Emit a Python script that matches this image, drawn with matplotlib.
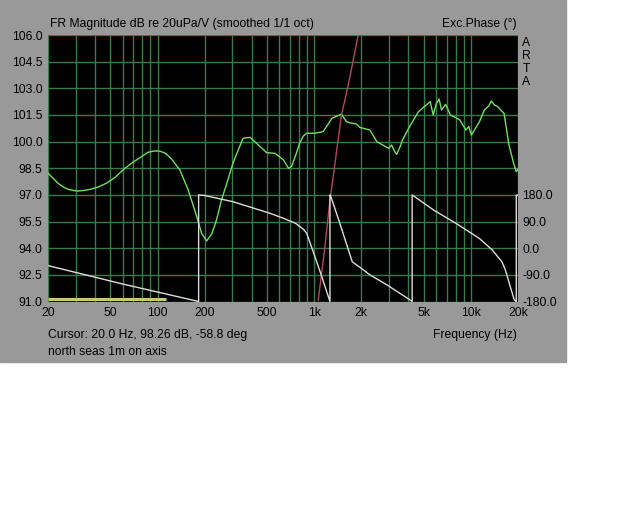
import matplotlib
matplotlib.use('Agg')
import matplotlib.pyplot as plt
from matplotlib.patches import Rectangle
from matplotlib.ticker import FixedLocator, NullLocator, NullFormatter

# magnitude (smoothed 1/1 oct), dB re 20uPa/V
mag_freq = [20, 21.5, 23.2, 25, 26.7, 29, 31, 34, 37.6, 42, 47, 53, 62, 70, 79, 87,
            95, 103, 112, 122, 139, 157, 178, 191, 206, 222, 238, 256, 277, 303, 330,
            352, 390, 440, 497, 563, 636, 686, 716, 760, 808, 850, 895,
            1009, 1141, 1297, 1448, 1492, 1607, 1684, 1862, 1954, 2268, 2516, 2992,
            3120, 3260, 3358, 3550, 3660, 4100, 4636, 5100, 5502, 5750, 6000, 6269,
            6500, 6900, 7400, 8000, 8500, 9300, 9700, 10080, 11350, 12200, 13000,
            13500, 14200, 14850, 15600, 16300, 17500, 18900, 19500, 20000]
mag_db = [98.22, 97.95, 97.65, 97.45, 97.32, 97.25, 97.22, 97.25, 97.32, 97.45, 97.65,
          97.95, 98.5, 98.85, 99.15, 99.4, 99.47, 99.47, 99.35, 99.06, 98.4, 97.28,
          95.78, 94.84, 94.41, 94.8, 95.59, 96.71, 97.65, 98.78, 99.6, 100.19, 100.24,
          99.81, 99.38, 99.34, 98.97, 98.5, 98.59, 99.2, 99.91, 100.3, 100.47, 100.47,
          100.56, 101.31, 101.5, 101.55, 101.12, 101.06, 100.99, 100.8, 100.65, 99.99,
          99.62, 99.81, 99.45, 99.28, 99.75, 100.09, 100.9, 101.69, 102.0, 102.25,
          101.5, 102.1, 102.4, 101.78, 102.1, 101.5, 101.35, 101.22, 100.65, 100.85,
          100.37, 101.12, 101.78, 102.0, 102.29, 102.05, 101.97, 101.75, 101.59, 99.81,
          98.68, 98.3, 98.45]

# excess phase (deg), wrapped
ph_freq = [20, 60, 183, 183, 200, 303, 522, 636, 761, 853, 895, 986, 1091, 1261, 1261,
           1275, 1448, 1750, 1954, 2268, 2916, 4100, 4220, 4220, 5780, 8040, 11330,
           13700, 15800, 16600, 18900, 19500, 19500, 20000]
ph_deg = [-58.8, -121, -180, 180, 178, 157, 118, 101, 84, 64, 51, -12, -79, -180, 180,
          176, 89, -46, -64, -90, -124, -175, -180, 180, 129, 84, 33, -6, -46, -73,
          -174, -180, 180, 178]

# red trace
red_freq = [1062, 1171, 1261, 1323, 1492, 1572, 1691, 1910]
red_db = [91.08, 94.09, 96.71, 98.03, 101.5, 102.34, 103.65, 106.0]

# yellow bar at bottom
yel_freq = [20, 113]
yel_db = [91.14, 91.14]

db_ticks = [91.0, 92.5, 94.0, 95.5, 97.0, 98.5, 100.0, 101.5, 103.0, 104.5, 106.0]
ph_ticks = [-180, -90, 0, 90, 180]
f_ticks = [20, 50, 100, 200, 500, 1000, 2000, 5000, 10000, 20000]
f_labels = ['20', '50', '100', '200', '500', '1k', '2k', '5k', '10k', '20k']
grid_f = [m * d for d in (10, 100, 1000, 10000) for m in range(1, 10)
          if 20 <= m * d <= 20000]

plt.rcParams['font.family'] = ['Liberation Sans', 'DejaVu Sans']
fs = 8.7
gridc = '#3a7a4a'

fig = plt.figure(figsize=(6.4, 5.12), dpi=100)
fig.patch.set_facecolor('white')
fig.patches.append(Rectangle((0, 1 - 362 / 512), 566 / 640, 362 / 512,
                             transform=fig.transFigure, color='#999999', zorder=-5))

ax = fig.add_axes([48 / 640, 1 - 301.5 / 512, 470 / 640, 266.5 / 512])
ax.set_facecolor('black')
ax.set_xscale('log')
ax.set_xlim(20, 20000)
ax.set_ylim(91, 106)
for s in ax.spines.values():
    s.set_visible(False)

for f in grid_f:
    ax.axvline(f, color=gridc, lw=1.0, zorder=1)
for d in db_ticks:
    ax.axhline(d, color=gridc, lw=1.0, zorder=1)

ax.xaxis.set_major_locator(FixedLocator(f_ticks))
ax.set_xticklabels(f_labels)
ax.xaxis.set_minor_locator(NullLocator())
ax.xaxis.set_minor_formatter(NullFormatter())
ax.set_yticks(db_ticks)
ax.set_yticklabels(['%.1f' % d for d in db_ticks])
ax.tick_params(length=0, labelsize=fs, pad=4, colors='black')

ax.plot(yel_freq, yel_db, color='#c8c878', lw=2.2, zorder=3, solid_capstyle='butt')
ax.plot(mag_freq, mag_db, color='#72e05e', lw=1.0, zorder=4)
ax.plot(red_freq, red_db, color='#b04a58', lw=1.0, zorder=5)

ax2 = ax.twinx()
ax2.set_ylim(-180, 720)
ax2.set_yticks(ph_ticks)
ax2.set_yticklabels(['%.1f' % p for p in ph_ticks])
ax2.tick_params(length=0, labelsize=fs, pad=3, colors='black')
for s in ax2.spines.values():
    s.set_visible(False)
ax2.plot(ph_freq, ph_deg, color='#dcdcdc', lw=1.0, zorder=3)

fig.text(50 / 640, 1 - 24 / 512, 'FR Magnitude dB re 20uPa/V (smoothed 1/1 oct)',
         fontsize=fs, va='center', ha='left')
fig.text(517 / 640, 1 - 24 / 512, 'Exc.Phase (°)', fontsize=fs, va='center', ha='right')
for i, ch in enumerate('ARTA'):
    fig.text(526 / 640, 1 - (43 + i * 13) / 512, ch, fontsize=fs, va='center', ha='center')
fig.text(48 / 640, 1 - 335 / 512, 'Cursor: 20.0 Hz, 98.26 dB, -58.8 deg',
         fontsize=fs, va='center', ha='left')
fig.text(48 / 640, 1 - 352 / 512, 'north seas 1m on axis', fontsize=fs, va='center', ha='left')
fig.text(517 / 640, 1 - 335 / 512, 'Frequency (Hz)', fontsize=fs, va='center', ha='right')

fig.savefig('out.png', dpi=100)
